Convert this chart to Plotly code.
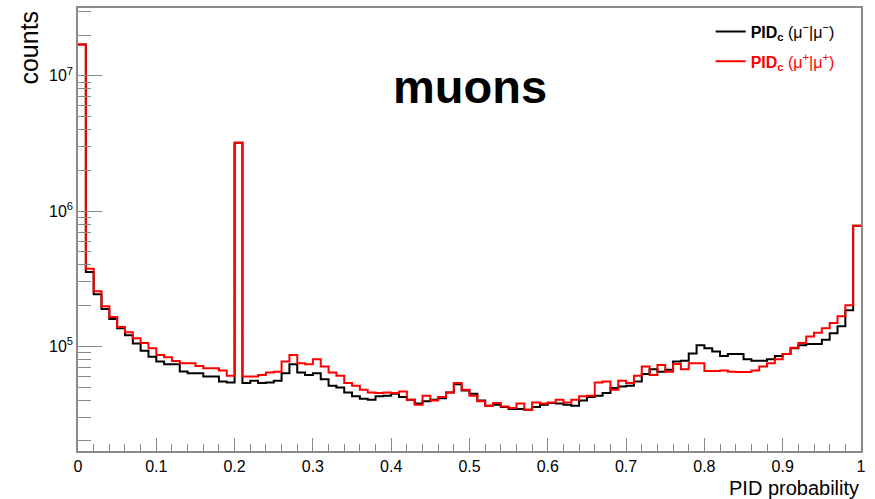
import plotly.graph_objects as go

# PID probability binning: 100 bins of width 0.01 from 0 to 1
bin_lo = 0.0
bin_width = 0.01
n_bins = 100

# Counts per bin, PID_c(mu-|mu-)
counts_mm = [
    1.71e7, 3.54e5, 2.43e5, 1.89e5, 1.59e5, 1.36e5, 1.21e5, 1.05e5, 9.29e4, 8.39e4,
    7.71e4, 7.36e4, 7.36e4, 6.52e4, 6.32e4, 6.32e4, 5.98e4, 5.98e4, 5.50e4, 5.41e4,
    3.20e6, 5.35e4, 5.56e4, 5.35e4, 5.41e4, 5.56e4, 6.32e4, 7.36e4, 6.40e4, 6.15e4,
    6.32e4, 5.71e4, 5.11e4, 4.97e4, 4.56e4, 4.27e4, 4.10e4, 4.03e4, 4.27e4, 4.32e4,
    4.46e4, 4.22e4, 4.03e4, 3.77e4, 3.92e4, 4.03e4, 4.14e4, 4.56e4, 5.25e4, 4.72e4,
    4.46e4, 3.98e4, 3.64e4, 3.70e4, 3.56e4, 3.44e4, 3.44e4, 3.40e4, 3.56e4, 3.70e4,
    3.81e4, 3.77e4, 3.70e4, 3.64e4, 3.98e4, 4.22e4, 4.32e4, 4.51e4, 4.91e4, 5.05e4,
    5.11e4, 5.50e4, 6.25e4, 6.78e4, 6.50e4, 6.70e4, 7.71e4, 7.83e4, 8.87e4, 1.02e5,
    9.66e4, 9.14e4, 8.49e4, 8.77e4, 8.77e4, 8.02e4, 7.83e4, 7.83e4, 8.02e4, 8.49e4,
    8.77e4, 9.66e4, 1.02e5, 1.04e5, 1.04e5, 1.12e5, 1.25e5, 1.41e5, 1.85e5, 7.80e5,
]

# Counts per bin, PID_c(mu+|mu+)
counts_pp = [
    1.71e7, 3.74e5, 2.56e5, 1.98e5, 1.65e5, 1.39e5, 1.27e5, 1.15e5, 1.06e5, 9.66e4,
    8.63e4, 8.30e4, 7.80e4, 7.50e4, 7.50e4, 7.16e4, 6.89e4, 6.89e4, 6.62e4, 6.05e4,
    3.20e6, 5.98e4, 5.98e4, 6.15e4, 6.40e4, 6.50e4, 7.71e4, 8.63e4, 7.50e4, 7.36e4,
    8.02e4, 7.08e4, 6.40e4, 6.05e4, 5.35e4, 5.11e4, 4.78e4, 4.56e4, 4.51e4, 4.56e4,
    4.51e4, 4.63e4, 4.03e4, 3.70e4, 4.32e4, 3.98e4, 4.22e4, 4.56e4, 5.35e4, 4.78e4,
    4.32e4, 3.92e4, 3.64e4, 3.81e4, 3.59e4, 3.50e4, 3.77e4, 3.40e4, 3.85e4, 3.77e4,
    3.85e4, 4.03e4, 3.85e4, 4.03e4, 4.27e4, 4.32e4, 5.41e4, 5.50e4, 4.78e4, 5.56e4,
    5.35e4, 6.05e4, 7.08e4, 6.15e4, 7.28e4, 6.50e4, 7.41e4, 6.78e4, 7.50e4, 7.50e4,
    6.58e4, 6.58e4, 6.62e4, 6.50e4, 6.47e4, 6.47e4, 6.62e4, 7.08e4, 7.50e4, 8.02e4,
    8.77e4, 9.77e4, 1.06e5, 1.18e5, 1.26e5, 1.36e5, 1.49e5, 1.67e5, 2.01e5, 7.80e5,
]

x_tick_step = 0.1
y_major = [1e5, 1e6, 1e7]
y_major_text = ["10<sup>5</sup>", "10<sup>6</sup>", "10<sup>7</sup>"]
y_minor = [m * 10 ** e for e in range(4, 8) for m in range(2, 10) if m * 10 ** e < 3.2e7]

name_mm = "<b>PID<sub>c</sub></b> (μ<sup>−</sup>|μ<sup>−</sup>)"
name_pp = ('<span style="color:#ff0000"><b>PID<sub>c</sub></b> '
           '(μ<sup>+</sup>|μ<sup>+</sup>)</span>')

edges = [round(bin_lo + i * bin_width, 4) for i in range(n_bins + 1)]

FONT = "Liberation Sans, Arial, Helvetica, sans-serif"
AXIS_GREY = "#8a8a8a"


def step_trace(values, color, name, group):
    return go.Scatter(
        x=edges,
        y=list(values) + [values[-1]],
        mode="lines",
        line=dict(color=color, width=2, shape="hv"),
        name=name,
        legendgroup=group,
        hoverinfo="skip",
    )


fig = go.Figure()
fig.add_trace(step_trace(counts_mm, "#000000", name_mm, "mm"))
fig.add_trace(step_trace(counts_pp, "#ff0000", name_pp, "pp"))
# empty trace carrying the minor-tick overlay axis
fig.add_trace(go.Scatter(x=[], y=[], yaxis="y2", showlegend=False, hoverinfo="skip"))

log_range = [4.226, 7.502]

fig.update_layout(
    width=875,
    height=499,
    margin=dict(l=78, r=14, t=6, b=47.5),
    paper_bgcolor="white",
    plot_bgcolor="white",
    font=dict(family=FONT, color="black"),
    showlegend=True,
    legend=dict(
        x=0.808, y=0.985, xanchor="left", yanchor="top",
        bgcolor="rgba(0,0,0,0)", borderwidth=0,
        font=dict(size=16, family=FONT),
        tracegroupgap=6,
        itemwidth=30,
    ),
    xaxis=dict(
        range=[0, 1],
        dtick=x_tick_step,
        tick0=0,
        ticks="inside",
        ticklen=13,
        tickwidth=1,
        tickcolor=AXIS_GREY,
        showgrid=False,
        zeroline=False,
        showline=True,
        linecolor=AXIS_GREY,
        linewidth=1.5,
        mirror=True,
        tickfont=dict(size=16),
        minor=dict(dtick=0.02, ticks="inside", ticklen=7, tickcolor=AXIS_GREY, showgrid=False),
    ),
    yaxis=dict(
        type="log",
        range=log_range,
        tickvals=y_major,
        ticktext=y_major_text,
        ticks="inside",
        ticklen=24,
        tickwidth=1,
        tickcolor=AXIS_GREY,
        showgrid=False,
        zeroline=False,
        showline=True,
        linecolor=AXIS_GREY,
        linewidth=1.5,
        mirror=True,
        tickfont=dict(size=16),
    ),
    yaxis2=dict(
        type="log",
        range=log_range,
        overlaying="y",
        side="left",
        tickvals=y_minor,
        ticks="inside",
        ticklen=13,
        tickwidth=1,
        tickcolor=AXIS_GREY,
        showticklabels=False,
        showgrid=False,
        zeroline=False,
        showline=False,
    ),
    annotations=[
        dict(text="counts", xref="paper", yref="paper", x=-0.063, y=0.91,
             xanchor="center", yanchor="middle", textangle=-90, showarrow=False,
             font=dict(size=25, family=FONT)),
        dict(text="PID probability", xref="paper", yref="paper", x=1.0, y=-0.083,
             xanchor="right", yanchor="middle", showarrow=False,
             font=dict(size=20, family=FONT)),
        dict(text="<b>muons</b>", xref="paper", yref="paper", x=0.5006, y=0.822,
             xanchor="center", yanchor="middle", showarrow=False,
             font=dict(size=47, family=FONT)),
    ],
)

fig.write_html("out.html")
